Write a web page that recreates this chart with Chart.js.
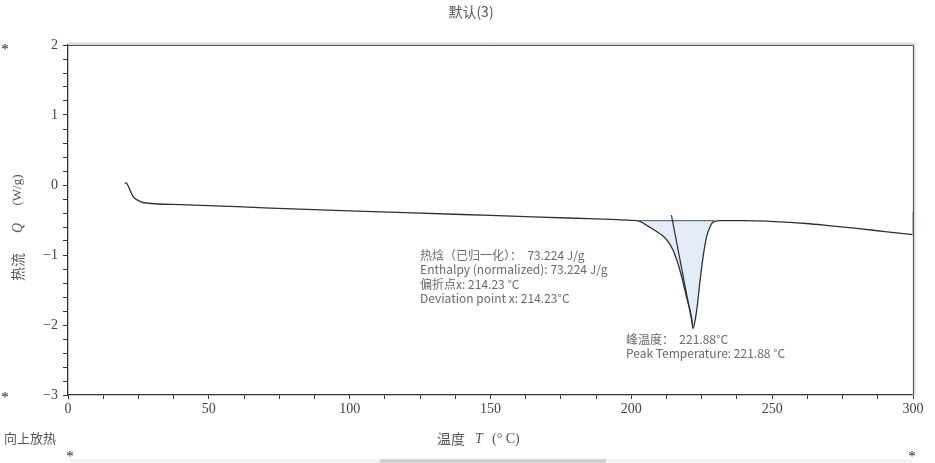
<!DOCTYPE html>
<html>
<head>
<meta charset="utf-8">
<script src="https://cdn.jsdelivr.net/npm/chart.js@4.4.1/dist/chart.umd.min.js"></script>
<style>
  html, body { margin: 0; padding: 0; background: #fff; }
  #wrap { width: 935px; height: 463px; position: relative; }
</style>
</head>
<body>
<div id="wrap"><canvas id="dsc"></canvas></div>
<script>
// DSC curve
const temps = [20.2, 20.6, 21.2, 22, 23.2, 24.9, 26.6, 40, 60, 82, 100, 120, 150, 180, 195, 200, 202,
  203, 204, 205.4, 207, 209, 211, 212.5, 214.8, 217.2, 219.6, 221.4, 221.88, 223.2, 224.3, 225.5, 226.7, 227.9, 229,
  232, 240, 248, 255, 262, 270, 280, 290, 300];
const heatFlow = [0.02, 0.03, 0.0, -0.07, -0.17, -0.22, -0.25, -0.28, -0.31, -0.345, -0.37, -0.395, -0.435, -0.475, -0.495, -0.505, -0.51,
  -0.52, -0.54, -0.575, -0.615, -0.665, -0.72, -0.78, -0.93, -1.21, -1.6, -1.9, -2.05, -1.79, -1.4, -1.02, -0.74, -0.6, -0.53,
  -0.51, -0.51, -0.515, -0.53, -0.55, -0.58, -0.62, -0.665, -0.71];

// integration range and baseline
const peakStart = 202;
const peakEnd = 229.5;
const baselineQ = -0.51;
const baselineT = [202, 229.5];

// tangent from deviation point to peak
const tangentT = [214.23, 221.88];
const tangentQ = [-0.43, -2.03];

const endMarkT = [300, 300];
const endMarkQ = [-0.39, -0.71];

const xTicks = [0, 50, 100, 150, 200, 250, 300];
const yTicks = [2, 1, 0, -1, -2, -3];

const enthalpyLines = ['热焓（已归一化）：  73.224 J/g', 'Enthalpy (normalized): 73.224 J/g', '偏折点x: 214.23 °C', 'Deviation point x: 214.23°C'];
const peakLines = ['峰温度：  221.88°C', 'Peak Temperature: 221.88 °C'];

const curve = temps.map((t, i) => ({ x: t, y: heatFlow[i] }));
const peakArea = curve.filter(p => p.x >= peakStart && p.x <= peakEnd);
const baseline = baselineT.map(t => ({ x: t, y: baselineQ }));
const tangent = tangentT.map((t, i) => ({ x: t, y: tangentQ[i] }));
const endMark = endMarkT.map((t, i) => ({ x: t, y: endMarkQ[i] }));

const CJK = '"Noto Sans CJK SC", "Noto Sans", sans-serif';
const SERIF = '"Liberation Serif", "DejaVu Serif", serif';

const extras = {
  id: 'extras',
  afterDraw(chart) {
    const { ctx, chartArea: a, scales } = chart;
    ctx.save();
    // top / right frame
    ctx.strokeStyle = '#dadada';
    ctx.lineWidth = 3;
    ctx.beginPath();
    ctx.moveTo(a.left, a.top - 1); ctx.lineTo(a.right + 1, a.top - 1); ctx.lineTo(a.right + 1, a.bottom);
    ctx.stroke();
    ctx.strokeStyle = '#555';
    ctx.lineWidth = 1;
    ctx.beginPath();
    ctx.moveTo(a.left, a.top + 0.5); ctx.lineTo(a.right + 0.5, a.top + 0.5); ctx.lineTo(a.right + 0.5, a.bottom);
    ctx.stroke();

    // title
    ctx.fillStyle = '#555';
    ctx.font = '14px ' + CJK;
    ctx.textAlign = 'center';
    ctx.textBaseline = 'middle';
    ctx.fillText('默认(3)', 471, 12);

    // y title (rotated)
    ctx.save();
    ctx.translate(18, 225);
    ctx.rotate(-Math.PI / 2);
    ctx.textAlign = 'center';
    ctx.font = '14px ' + CJK;
    ctx.fillText('热流', -42, 0);
    ctx.font = 'italic 14px ' + SERIF;
    ctx.fillText('Q', -3, 0);
    ctx.font = '13px ' + SERIF;
    ctx.fillText('(W/g)', 35, 0);
    ctx.restore();

    // x title
    ctx.font = '14px ' + CJK;
    ctx.textAlign = 'left';
    ctx.fillText('温度', 437, 439);
    ctx.font = 'italic 14px ' + SERIF;
    ctx.fillText('T', 475, 439);
    ctx.font = '14px ' + SERIF;
    ctx.fillText('(° C)', 492, 439);

    ctx.font = '13px ' + CJK;
    ctx.fillText('向上放热', 4, 438);

    // corner marks
    ctx.fillStyle = '#222';
    ctx.font = '15px ' + SERIF;
    ctx.textAlign = 'center';
    ctx.fillText('*', 5, 50);
    ctx.fillText('*', 5, 398);
    ctx.fillText('*', 70, 457);
    ctx.fillText('*', 912, 457);

    // annotations
    const x = scales.x, y = scales.y;
    ctx.fillStyle = '#6a6a6a';
    ctx.font = '12px ' + CJK;
    ctx.textAlign = 'left';
    let ax = x.getPixelForValue(125), ay = y.getPixelForValue(-1.0);
    enthalpyLines.forEach((s, i) => ctx.fillText(s, ax, ay + i * 14.5));
    ax = x.getPixelForValue(198.1); ay = y.getPixelForValue(-2.21);
    peakLines.forEach((s, i) => ctx.fillText(s, ax, ay + i * 13.5));

    // scrollbar strip at bottom
    ctx.fillStyle = '#f3f3f3';
    ctx.fillRect(70, 459, 842, 4);
    ctx.fillStyle = '#d2d2d2';
    ctx.fillRect(380, 459, 226, 4);
    ctx.restore();
  }
};

new Chart(document.getElementById('dsc'), {
  type: 'line',
  data: {
    datasets: [
      { data: tangent, borderColor: '#2a2f36', borderWidth: 1.2, pointRadius: 0, fill: false },
      { data: baseline, borderColor: '#4a5058', borderWidth: 1, pointRadius: 0, fill: false },
      { data: endMark, borderColor: '#3c7d3c', borderWidth: 1.5, pointRadius: 0, fill: false },
      { data: curve, borderColor: '#2a3139', borderWidth: 1.3, pointRadius: 0, fill: false, cubicInterpolationMode: 'monotone' },
      { data: peakArea, borderWidth: 0, borderColor: 'rgba(0,0,0,0)', backgroundColor: 'rgba(222,233,246,0.85)', pointRadius: 0,
        fill: { value: baselineQ }, cubicInterpolationMode: 'monotone' }
    ]
  },
  options: {
    responsive: true,
    maintainAspectRatio: false,
    animation: false,
    layout: { padding: { top: 45, right: 22, left: 0, bottom: 0 } },
    plugins: { legend: { display: false }, tooltip: { enabled: false }, title: { display: false } },
    scales: {
      x: {
        type: 'linear', min: 0, max: 300,
        afterFit(s) { s.height = 68; },
        afterBuildTicks(s) {
          const t = [];
          for (let v = 0; v <= 300; v += 12.5) t.push({ value: v });
          s.ticks = t;
        },
        ticks: {
          autoSkip: false, maxRotation: 0, padding: 2, color: '#444',
          font: { family: SERIF, size: 14 },
          callback: v => xTicks.includes(v) ? String(v) : ''
        },
        grid: { drawOnChartArea: false, drawTicks: true, tickLength: 4, tickColor: '#333' },
        border: { color: '#333', width: 1.3 }
      },
      y: {
        type: 'linear', min: -3, max: 2,
        afterFit(s) { s.width = 68; },
        afterBuildTicks(s) {
          const t = [];
          for (let i = -15; i <= 10; i++) t.push({ value: i / 5 });
          s.ticks = t;
        },
        ticks: {
          autoSkip: false, padding: 5, color: '#444',
          font: { family: SERIF, size: 14 },
          callback: v => {
            const r = Math.round(v);
            return Math.abs(v - r) < 1e-6 && yTicks.includes(r) ? (r < 0 ? '\u2212' + Math.abs(r) : String(r)) : '';
          }
        },
        grid: { drawOnChartArea: false, drawTicks: true, tickLength: 5, tickColor: '#333' },
        border: { color: '#333', width: 1.3 }
      }
    }
  },
  plugins: [extras]
});
</script>
</body>
</html>
